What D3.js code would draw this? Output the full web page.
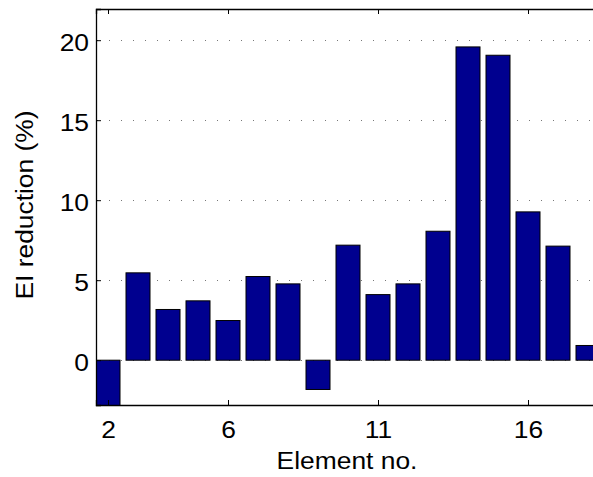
<!DOCTYPE html>
<html>
<head>
<meta charset="utf-8">
<script src="https://cdnjs.cloudflare.com/ajax/libs/d3/7.8.5/d3.min.js"></script>
<style>
  body { margin: 0; background: #fff; }
  svg { display: block; font-family: "Liberation Sans", Arial, sans-serif; }
</style>
</head>
<body>
<div class="content"></div>
<script>
(function() {

  // Data
  var elements = [2, 3, 4, 5, 6, 7, 8, 9, 10, 11, 12, 13, 14, 15, 16, 17, 18];
  var reduction = [-3.2, 5.46, 3.17, 3.71, 2.48, 5.23, 4.77, -1.83, 7.19, 4.10, 4.77, 8.06, 19.58, 19.06, 9.27, 7.13, 0.92];
  var xTicks = [2, 6, 11, 16];
  var yTicks = [0, 5, 10, 15, 20];

  // Design Variables
  var width = 593;
  var height = 477;
  var margin = {top: 9, right: -7, bottom: 72, left: 96};
  var barColor = "#00008f";
  var fontSize = 24;
  var sx = 1.1; // the original font runs a bit wide
  var stretch = "scale(" + sx + ",1)";

  // Scales
  var x = d3.scaleLinear()
    .domain([1.6, 18.4])
    .range([margin.left, width - margin.right]);

  var y = d3.scaleLinear()
    .domain([-2.8, 21.95])
    .range([height - margin.bottom, margin.top]);

  var svg = d3.select(".content").append("svg")
    .attr("width", width)
    .attr("height", height);

  svg.append("clipPath")
    .attr("id", "plot-clip")
    .append("rect")
    .attr("x", x.range()[0])
    .attr("y", y.range()[1])
    .attr("width", x.range()[1] - x.range()[0])
    .attr("height", y.range()[0] - y.range()[1]);

  // Grid
  svg.append("g")
    .selectAll("line")
    .data(yTicks)
    .enter()
    .append("line")
    .attr("x1", x.range()[0] + 1)
    .attr("x2", x.range()[1])
    .attr("y1", function(d) { return Math.round(y(d)) + 0.5; })
    .attr("y2", function(d) { return Math.round(y(d)) + 0.5; })
    .attr("stroke", "#777")
    .attr("stroke-width", 1)
    .attr("stroke-dasharray", "1,11");

  // Bars
  var bw = 0.8;
  svg.append("g")
    .attr("clip-path", "url(#plot-clip)")
    .selectAll("rect")
    .data(elements)
    .enter()
    .append("rect")
    .attr("x", function(d) { return x(d - bw / 2); })
    .attr("width", function(d) { return x(d + bw / 2) - x(d - bw / 2); })
    .attr("y", function(d, i) { return y(Math.max(0, reduction[i])); })
    .attr("height", function(d, i) { return Math.abs(y(reduction[i]) - y(0)); })
    .attr("fill", barColor)
    .attr("stroke", "#000")
    .attr("stroke-width", 1);

  // Axes (MATLAB style, ticks inside)
  var xAxisBottom = d3.axisBottom(x).tickValues(xTicks).tickSize(-5).tickPadding(15.5);
  var xAxisTop = d3.axisTop(x).tickValues(xTicks).tickSize(-5).tickFormat("");
  var yAxisLeft = d3.axisLeft(y).tickValues(yTicks).tickSize(-5).tickPadding(7);

  var gb = svg.append("g")
    .attr("transform", "translate(0," + y.range()[0] + ")")
    .call(xAxisBottom);
  var gt = svg.append("g")
    .attr("transform", "translate(0," + y.range()[1] + ")")
    .call(xAxisTop);
  var gl = svg.append("g")
    .attr("transform", "translate(" + x.range()[0] + ",0)")
    .call(yAxisLeft);

  [gb, gt, gl].forEach(function(g) {
    g.select(".domain").attr("stroke", "#000").attr("stroke-width", 1.3);
    g.selectAll(".tick line").attr("stroke", "#000");
    g.selectAll(".tick text")
      .attr("fill", "#000")
      .style("font-size", fontSize + "px")
      .style("font-family", "'Liberation Sans', Arial, sans-serif");
  });

  gb.selectAll(".tick text").attr("transform", stretch);
  gl.selectAll(".tick text")
    .attr("dy", "0.44em")
    .attr("x", -7 / sx)
    .attr("transform", stretch);

  // Axis titles
  svg.append("text")
    .attr("transform", "translate(347,469) " + stretch)
    .attr("text-anchor", "middle")
    .style("font-size", fontSize + "px")
    .text("Element no.");

  svg.append("text")
    .attr("transform", "translate(33,205) rotate(-90) " + stretch)
    .attr("text-anchor", "middle")
    .style("font-size", fontSize + "px")
    .text("EI reduction (%)");

})()
</script>
</body>
</html>
